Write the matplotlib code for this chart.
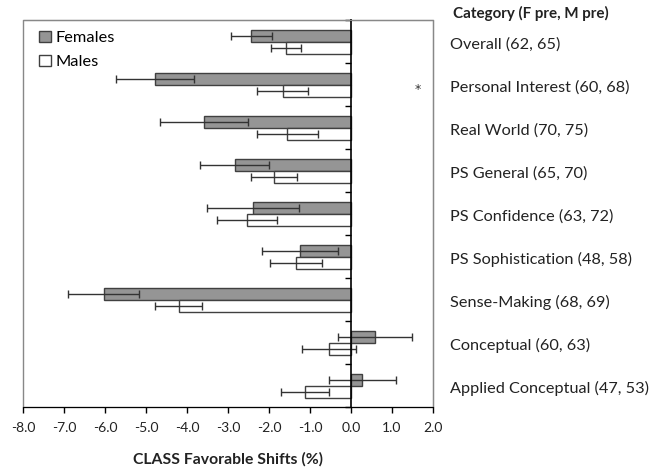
import matplotlib
matplotlib.use('Agg')
import matplotlib.pyplot as plt
import matplotlib.transforms as mtransforms
import numpy as np

categories = ["Overall (62, 65)", "Personal Interest (60, 68)", "Real World (70, 75)",
              "PS General (65, 70)", "PS Confidence (63, 72)", "PS Sophistication (48, 58)",
              "Sense-Making (68, 69)", "Conceptual (60, 63)", "Applied Conceptual (47, 53)"]
females     = [-2.43, -4.78, -3.58, -2.84, -2.39, -1.24, -6.03, 0.59, 0.28]
females_err = [0.50, 0.94, 1.07, 0.84, 1.13, 0.93, 0.86, 0.91, 0.82]
males       = [-1.59, -1.67, -1.55, -1.88, -2.53, -1.34, -4.20, -0.54, -1.12]
males_err   = [0.36, 0.62, 0.74, 0.56, 0.73, 0.64, 0.57, 0.65, 0.58]
starred     = ["Personal Interest (60, 68)"]

plt.rcParams['font.family'] = ['Lato', 'DejaVu Sans']

fig = plt.figure(figsize=(6.64, 4.72), dpi=100)
ax = fig.add_axes([0.0346, 0.1377, 0.6175, 0.82])

y = np.arange(len(categories))
h = 0.28
ebar = dict(ecolor='#333333', elinewidth=1.0, capsize=3, capthick=1.0)
ax.barh(y - 0.135, females, height=h, color='#959595', edgecolor='#404040',
        linewidth=1.0, xerr=females_err, error_kw=ebar, label='Females', zorder=2)
ax.barh(y + 0.145, males, height=h, color='white', edgecolor='#404040',
        linewidth=1.0, xerr=males_err, error_kw=ebar, label='Males', zorder=2)

ax.set_xlim(-8, 2)
ax.set_ylim(len(categories) - 0.5, -0.5)
ax.set_xticks(np.arange(-8, 2.1, 1))
ax.set_xticklabels([f"{v:.1f}" for v in np.arange(-8, 2.1, 1)], fontsize=10, color='#222222')
ax.set_xlabel("CLASS Favorable Shifts (%)", fontsize=11.3, fontweight='bold',
              color='#222222', labelpad=13)

# vertical axis at zero with boundary ticks
ax.spines['left'].set_position(('data', 0))
ax.spines['left'].set_color('black')
ax.spines['left'].set_linewidth(1.2)
ax.set_yticks(np.arange(len(categories) + 1) - 0.5)
ax.set_yticklabels([])
ax.tick_params(axis='y', direction='out', length=4, width=1, color='black')
ax.tick_params(axis='x', direction='out', length=4, width=1, color='black', pad=7)

for s in ['top', 'right']:
    ax.spines[s].set_color('#888888')
ax.spines['bottom'].set_color('black')
ax.patch.set_edgecolor('#888888')
ax.patch.set_linewidth(1.0)

trans = mtransforms.blended_transform_factory(fig.transFigure, ax.transData)
for i, c in enumerate(categories):
    ax.text(0.677, i + 0.07, c, transform=trans, ha='left', va='center',
            fontsize=11.7, color='#222222', clip_on=False)
    if c in starred:
        ax.text(1.62, i + 0.12, "*", ha='center', va='center', fontsize=9,
                color='#333333', family='DejaVu Sans')
fig.text(0.682, 0.972, "Category (F pre, M pre)", ha='left', va='center',
         fontsize=10.9, fontweight='bold', color='#222222')

leg = ax.legend(loc='upper left', bbox_to_anchor=(0.0, 1.015), frameon=False,
                fontsize=11.8, handlelength=0.7, handleheight=0.7, handletextpad=0.3,
                labelspacing=0.6, borderaxespad=0.6)

fig.savefig("out.png", dpi=100)
